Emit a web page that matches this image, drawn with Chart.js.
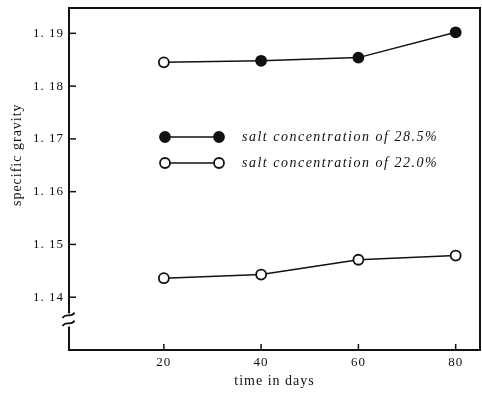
<!DOCTYPE html>
<html>
<head>
<meta charset="utf-8">
<script src="https://cdn.jsdelivr.net/npm/chart.js@4"></script>
<style>
  html, body { margin: 0; padding: 0; background: #fff; }
  canvas { display: block; }
</style>
</head>
<body>
<canvas id="c" width="482" height="395"></canvas>
<script>
// Specific gravity over time for two brine strengths
const days = [20, 40, 60, 80];
const gravity285 = [1.1845, 1.1848, 1.1854, 1.1902];
const gravity220 = [1.1436, 1.1443, 1.1471, 1.1479];
const xTickValues = [20, 40, 60, 80];
const yTickValues = [1.14, 1.15, 1.16, 1.17, 1.18, 1.19];
const seriesLabels = ['salt concentration of 28.5%', 'salt concentration of 22.0%'];
const xTitle = 'time in days';
const yTitle = 'specific gravity';
const axisBreakValue = 1.1358;

const INK = '#111';
const SERIF = "'Liberation Serif', 'DejaVu Serif', serif";

// Slightly open letter spacing for the axis text, as in old typeset figures
const spacingPlugin = {
  id: 'spacing',
  beforeDraw(chart) { chart.ctx.letterSpacing = '1px'; },
  beforeDatasetsDraw(chart) { chart.ctx.letterSpacing = '0px'; }
};

// Box frame, broken y axis, inward tick marks and the y axis title
const framePlugin = {
  id: 'frame',
  afterDraw(chart) {
    const ctx = chart.ctx;
    const { left, right, top, bottom } = chart.chartArea;
    const xs = chart.scales.x, ys = chart.scales.y;
    const by = ys.getPixelForValue(axisBreakValue);
    ctx.save();
    ctx.strokeStyle = INK;
    ctx.lineWidth = 2;
    ctx.lineCap = 'square';
    ctx.beginPath();
    ctx.moveTo(left, by - 7);
    ctx.lineTo(left, top);
    ctx.lineTo(right, top);
    ctx.lineTo(right, bottom);
    ctx.lineTo(left, bottom);
    ctx.lineTo(left, by + 8);
    ctx.stroke();
    const tilde = (cy) => {
      ctx.beginPath();
      ctx.moveTo(left - 6, cy + 2);
      ctx.bezierCurveTo(left - 3, cy - 3, left + 1, cy + 3, left + 5, cy - 2);
      ctx.stroke();
    };
    ctx.lineWidth = 1.8;
    tilde(by - 4);
    tilde(by + 4);
    ctx.lineWidth = 1.5;
    ctx.lineCap = 'butt';
    ys.ticks.forEach(t => {
      const py = ys.getPixelForValue(t.value);
      ctx.beginPath(); ctx.moveTo(left, py); ctx.lineTo(left + 7, py); ctx.stroke();
    });
    xs.ticks.forEach(t => {
      const px = xs.getPixelForValue(t.value);
      ctx.beginPath(); ctx.moveTo(px, bottom); ctx.lineTo(px, bottom - 6); ctx.stroke();
    });

    // y axis title, set a little above the middle of the axis
    ctx.translate(17, ys.getPixelForValue(1.167));
    ctx.rotate(-Math.PI / 2);
    ctx.fillStyle = INK;
    ctx.font = '14px ' + SERIF;
    ctx.letterSpacing = '1px';
    ctx.textAlign = 'center';
    ctx.textBaseline = 'middle';
    ctx.fillText(yTitle, 0, 0);
    ctx.restore();
  }
};

// Key drawn inside the plot area
const keyPlugin = {
  id: 'key',
  afterDraw(chart) {
    const ctx = chart.ctx;
    const { left, top } = chart.chartArea;
    const rows = [
      { y: top + 129, fill: INK, text: seriesLabels[0] },
      { y: top + 155, fill: '#fff', text: seriesLabels[1] }
    ];
    const x1 = left + 96, x2 = left + 150, tx = left + 173;
    ctx.save();
    rows.forEach(r => {
      ctx.strokeStyle = INK;
      ctx.lineWidth = 1.5;
      ctx.beginPath(); ctx.moveTo(x1, r.y); ctx.lineTo(x2, r.y); ctx.stroke();
      [x1, x2].forEach(cx => {
        ctx.beginPath();
        ctx.arc(cx, r.y, 5, 0, Math.PI * 2);
        ctx.fillStyle = r.fill;
        ctx.fill();
        ctx.lineWidth = 1.8;
        ctx.stroke();
      });
      ctx.fillStyle = INK;
      ctx.font = 'italic 14px ' + SERIF;
      ctx.letterSpacing = '1.5px';
      ctx.textBaseline = 'middle';
      ctx.textAlign = 'left';
      ctx.fillText(r.text, tx, r.y);
    });
    ctx.restore();
  }
};

const tickFont = { family: SERIF, size: 13 };
const titleFont = { family: SERIF, size: 14 };

new Chart(document.getElementById('c'), {
  type: 'line',
  data: {
    datasets: [
      {
        label: seriesLabels[0],
        data: days.map((d, i) => ({ x: d, y: gravity285[i] })),
        borderColor: INK,
        borderWidth: 1.5,
        pointRadius: 5,
        pointBorderWidth: 1.8,
        pointBorderColor: INK,
        pointBackgroundColor: ['#fff', INK, INK, INK],
        tension: 0
      },
      {
        label: seriesLabels[1],
        data: days.map((d, i) => ({ x: d, y: gravity220[i] })),
        borderColor: INK,
        borderWidth: 1.5,
        pointRadius: 5,
        pointBorderWidth: 1.8,
        pointBorderColor: INK,
        pointBackgroundColor: '#fff',
        tension: 0
      }
    ]
  },
  options: {
    responsive: false,
    animation: false,
    layout: { autoPadding: false, padding: { top: 8, right: 2, left: 0, bottom: 0 } },
    plugins: { legend: { display: false }, tooltip: { enabled: false } },
    scales: {
      x: {
        type: 'linear',
        min: 0.5,
        max: 85,
        afterBuildTicks: s => { s.ticks = xTickValues.map(v => ({ value: v })); },
        afterFit: s => { s.height = 45; s.paddingLeft = 0; s.paddingRight = 0; },
        grid: { display: false, drawTicks: false },
        border: { display: false },
        ticks: { padding: 5, font: tickFont, color: INK, maxRotation: 0, callback: v => String(v) },
        title: { display: true, text: xTitle, font: titleFont, color: INK, padding: { top: 0, bottom: 5 } }
      },
      y: {
        type: 'linear',
        min: 1.13,
        max: 1.1948,
        afterBuildTicks: s => { s.ticks = yTickValues.map(v => ({ value: v })); },
        afterFit: s => { s.width = 69; s.paddingTop = 0; s.paddingBottom = 0; },
        grid: { display: false, drawTicks: false },
        border: { display: false },
        ticks: { padding: 5, font: tickFont, color: INK, callback: v => v.toFixed(2).replace('.', '. ') },
        title: { display: false, text: yTitle }
      }
    }
  },
  plugins: [spacingPlugin, framePlugin, keyPlugin]
});
</script>
</body>
</html>
